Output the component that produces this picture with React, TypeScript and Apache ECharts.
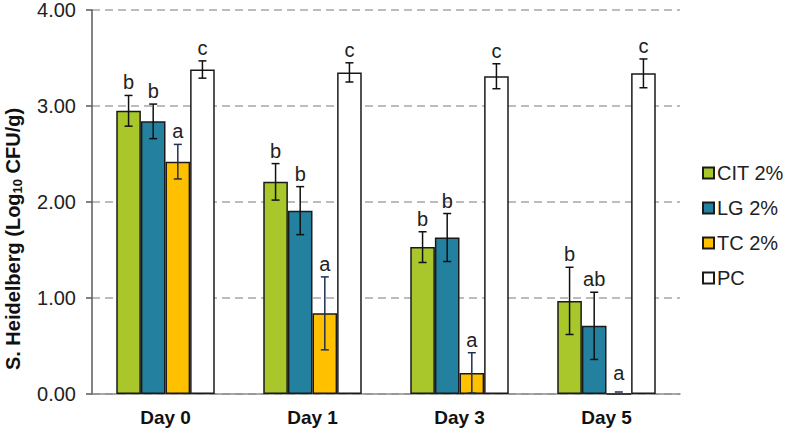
import React, { useEffect, useRef } from "react";
import * as echarts from "echarts";

const categories = ["Day 0", "Day 1", "Day 3", "Day 5"];
const seriesNames = ["CIT 2%", "LG 2%", "TC 2%", "PC"];
const yTicks = [0, 1, 2, 3, 4];

const citMeans = [2.95, 2.21, 1.53, 0.97];
const citErr = [0.16, 0.19, 0.16, 0.35];
const citLetters = ["b", "b", "b", "b"];

const lgMeans = [2.84, 1.91, 1.63, 0.71];
const lgErr = [0.18, 0.25, 0.25, 0.35];
const lgLetters = ["b", "b", "b", "ab"];

const tcMeans = [2.42, 0.84, 0.22, 0.0];
const tcErr = [0.18, 0.38, 0.21, 0.0];
const tcLetters = ["a", "a", "a", "a"];

const pcMeans = [3.38, 3.35, 3.31, 3.34];
const pcErr = [0.09, 0.1, 0.13, 0.15];
const pcLetters = ["c", "c", "c", "c"];

const colors = ["#a9c62b", "#23809f", "#ffc000", "#ffffff"];
const errColors = ["#111111", "#111111", "#1f3050", "#111111"];

const FONT = "'Liberation Sans', Arial, sans-serif";

export default function App() {
  const ref = useRef<HTMLDivElement>(null);
  useEffect(() => {
    if (!ref.current) return;
    const chart = echarts.init(ref.current, null, { renderer: "svg" });
    const means = [citMeans, lgMeans, tcMeans, pcMeans];
    const errs = [citErr, lgErr, tcErr, pcErr];
    const letters = [citLetters, lgLetters, tcLetters, pcLetters];
    const errData: any[] = [];
    for (let s = 0; s < 4; s++) {
      for (let c = 0; c < categories.length; c++) {
        errData.push([c, s, means[s][c], errs[s][c], letters[s][c]]);
      }
    }
    const CAT_GAP = 0.33;
    const barSeries = seriesNames.map((name, i) => ({
      name,
      type: "bar",
      data: means[i],
      barGap: "0%",
      barCategoryGap: "33%",
      itemStyle: { color: colors[i], borderColor: "#1a1a1a", borderWidth: 1.5 },
    }));
    chart.setOption({
      animation: false,
      backgroundColor: "#ffffff",
      grid: { left: 92, right: 105, top: 9, bottom: 38, containLabel: false },
      graphic: [
        {
          type: "text",
          x: 13,
          y: 239,
          rotation: Math.PI / 2,
          style: {
            text: "{b|S. Heidelberg (Log}{s|10}{b| CFU/g)}",
            textAlign: "center",
            textVerticalAlign: "middle",
            rich: {
              b: { fontFamily: FONT, fontSize: 20, fontWeight: "bold", fill: "#111", color: "#111" },
              s: { fontFamily: FONT, fontSize: 13, fontWeight: "bold", fill: "#111", color: "#111", padding: [8, 0, 0, 0] },
            },
          },
        },
      ],
      legend: {
        orient: "vertical",
        left: 697,
        top: 158,
        itemWidth: 11,
        itemHeight: 11,
        itemGap: 15,
        icon: "rect",
        data: seriesNames,
        textStyle: { fontFamily: FONT, fontSize: 20, color: "#222", padding: [0, 0, 0, -2] },
      },
      xAxis: {
        type: "category",
        data: categories,
        axisLine: { lineStyle: { color: "#8c8c8c", width: 1.5 } },
        axisTick: { show: false },
        axisLabel: {
          fontFamily: FONT,
          fontSize: 19,
          fontWeight: "bold",
          color: "#111",
          margin: 14,
        },
      },
      yAxis: {
        type: "value",
        min: yTicks[0],
        max: yTicks[yTicks.length - 1],
        interval: 1,
        axisLine: { show: true, lineStyle: { color: "#5a5a5a", width: 1.5 } },
        axisTick: { show: true, length: 6, lineStyle: { color: "#5a5a5a", width: 1.5 } },
        axisLabel: {
          fontFamily: FONT,
          fontSize: 20,
          color: "#222",
          margin: 16,
          formatter: (v: number) => v.toFixed(2),
        },
        splitLine: { lineStyle: { color: "#a6a6a6", type: [8, 5], width: 1.5 } },
      },
      series: [
        ...barSeries,
        {
          type: "custom",
          name: "err",
          z: 10,
          data: errData,
          encode: { x: 0, y: 2 },
          renderItem: (params: any, api: any) => {
            const cat = api.value(0);
            const s = api.value(1);
            const mean = api.value(2);
            const err = api.value(3);
            const letter = errData[params.dataIndex][4];
            const band = api.size([1, 0])[0];
            const bw = (band * (1 - CAT_GAP)) / 4;
            const base = api.coord([cat, mean]);
            const x = base[0] + (s - 1.5) * bw;
            const top = api.coord([cat, mean + err])[1];
            const bot = api.coord([cat, Math.max(0, mean - err)])[1];
            const c = errColors[s];
            const st = { stroke: c, lineWidth: 1.5 };
            const hw = 4;
            const children: any[] = [];
            if (err > 0) {
              children.push(
                { type: "line", shape: { x1: x, y1: top, x2: x, y2: bot }, style: st },
                { type: "line", shape: { x1: x - hw, y1: top, x2: x + hw, y2: top }, style: st },
                { type: "line", shape: { x1: x - hw, y1: bot, x2: x + hw, y2: bot }, style: st }
              );
            } else {
              children.push({ type: "line", shape: { x1: x - hw, y1: top - 2, x2: x + hw, y2: top - 2 }, style: st });
            }
            children.push({
              type: "text",
              style: {
                text: letter,
                x,
                y: err > 0 ? top - 3 : top - 11,
                textAlign: "center",
                textVerticalAlign: "bottom",
                fontFamily: FONT,
                fontSize: 20,
                fill: "#222",
              },
            });
            return { type: "group", children };
          },
        },
      ],
    });
    return () => chart.dispose();
  }, []);
  return <div ref={ref} style={{ width: 785, height: 432, position: "absolute", left: 0, top: 0 }} />;
}
